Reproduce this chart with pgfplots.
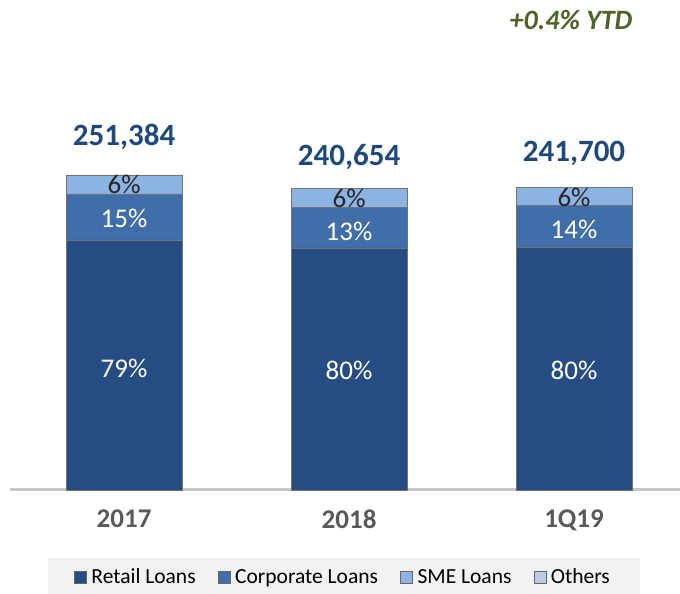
\documentclass[border=0pt]{standalone}
\usepackage{pgfplots}
\pgfplotsset{compat=1.18}
\usepackage{fontspec}
\setmainfont{Carlito}
\definecolor{retail}{HTML}{264D83}
\definecolor{corp}{HTML}{3F6EA8}
\definecolor{sme}{HTML}{8DB3E2}
\definecolor{others}{HTML}{B9CDE5}
\definecolor{totc}{HTML}{1F497D}
\definecolor{ytd}{HTML}{4F6228}
\pgfplotsset{sq legend/.style={legend image code/.code={\draw[##1, draw=black!60] (0pt,-6pt) rectangle (12pt,6pt);}}}
\begin{document}
\begin{tikzpicture}
\useasboundingbox (0,0) rectangle (680pt,594pt);
\fill[black!5] (48pt,0) rectangle (640pt,36pt);
\begin{axis}[at={(10pt,104pt)}, anchor=south west, scale only axis, width=670pt, height=390pt,
 ybar stacked, bar width=116pt, xmin=-0.507, xmax=2.471, ymin=0, ymax=311240,
 xtick={0,1,2}, xticklabels={2017,2018,1Q19},
 axis y line=none, axis x line*=bottom, separate axis lines,
 every outer x axis line/.append style={-, draw=black!22, line width=3pt},
 x axis line style={-, draw=black!22, line width=3pt},
 major tick length=0, ytick=\empty,
 xticklabel style={font=\fontsize{27}{30}\selectfont\bfseries, text=black!65, yshift=-16pt},
 legend style={at={(0.497,-0.223)}, anchor=center, draw=none, fill=none, legend columns=4,
   font=\fontsize{21.5}{24}\selectfont, /tikz/every even column/.append style={column sep=20pt},
   /tikz/every odd column/.append style={column sep=3pt}},
 clip=false]
\addplot[fill=retail, draw=black!55, sq legend] coordinates {(0,199599) (1,193245) (2,193843)};
\addlegendentry{Retail Loans}
\addplot[fill=corp, draw=black!55, sq legend] coordinates {(0,36702) (1,32488) (2,33355)};
\addlegendentry{Corporate Loans}
\addplot[fill=sme, draw=black!55, sq legend] coordinates {(0,15083) (1,14921) (2,14502)};
\addlegendentry{SME Loans}
\addlegendimage{fill=others, sq legend}
\addlegendentry{Others}
\end{axis}
\begin{axis}[at={(10pt,104pt)}, anchor=south west, scale only axis, width=670pt, height=390pt,
 xmin=-0.507, xmax=2.471, ymin=0, ymax=311240, hide axis, clip=false,
 point meta=explicit symbolic, nodes near coords,
 every node near coord/.append style={anchor=center}]
\addplot[draw=none, mark=none, nodes near coords style={text=white, font=\fontsize{27}{29}\selectfont}]
 coordinates {(0,97360)[79\%] (1,95770)[80\%] (2,95770)[80\%]
              (0,217070)[15\%] (1,206700)[13\%] (2,208290)[14\%]};
\addplot[draw=none, mark=none, nodes near coords style={text=black!85, font=\fontsize{27}{29}\selectfont}]
 coordinates {(0,244200)[6\%] (1,233030)[6\%] (2,233830)[6\%]};
\addplot[draw=none, mark=none, nodes near coords style={text=totc, font=\fontsize{31}{33}\selectfont\bfseries}]
 coordinates {(0,281710)[251,384] (1,265750)[240,654] (2,268940)[241,700]};
\end{axis}
\node[font=\fontsize{28}{30}\selectfont\bfseries\itshape, text=ytd] at (571pt,574pt) {+0.4\% YTD};
\end{tikzpicture}
\end{document}
